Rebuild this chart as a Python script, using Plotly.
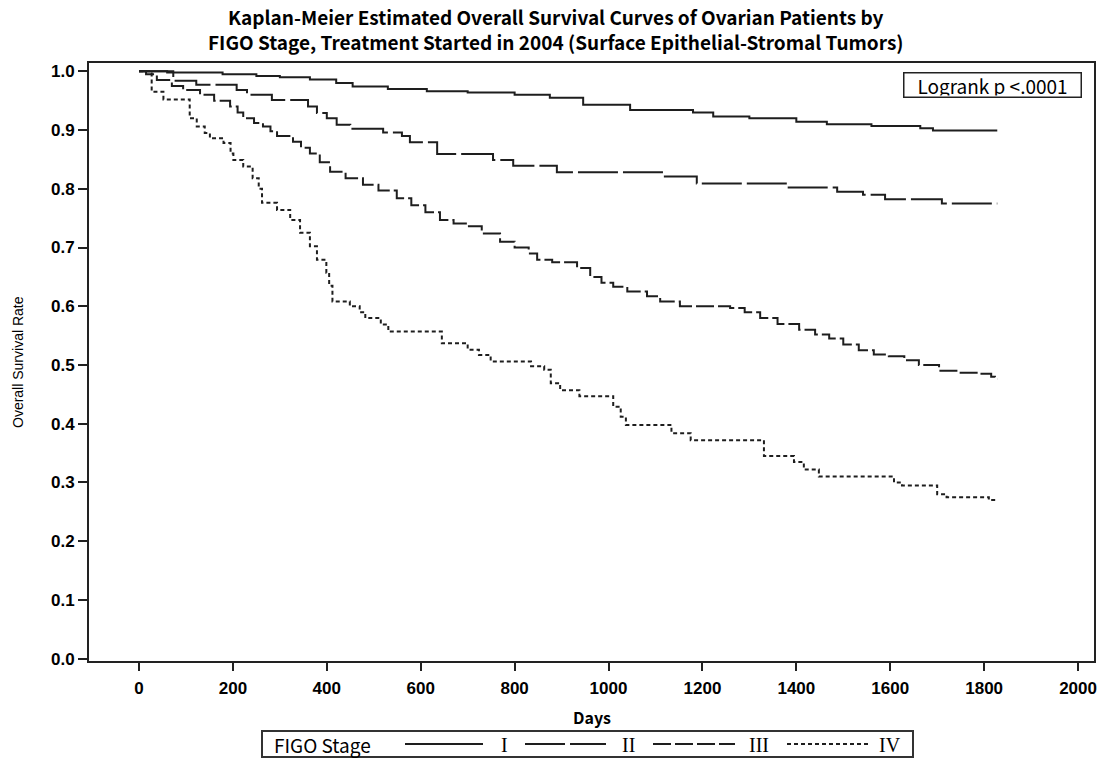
import plotly.graph_objects as go

# ---- Data ----
stage_I_days = [0, 60, 178, 250, 300, 364, 420, 455, 530, 613, 700, 800, 875, 946, 1046,
                1180, 1223, 1300, 1400, 1465, 1560, 1664, 1691, 1828]
stage_I_surv = [1.0, 0.998, 0.995, 0.992, 0.990, 0.986, 0.980, 0.974, 0.970, 0.966, 0.964,
                0.960, 0.955, 0.943, 0.934, 0.930, 0.923, 0.920, 0.914, 0.910, 0.907, 0.903,
                0.899, 0.899]

stage_II_days = [0, 73, 122, 208, 230, 283, 360, 379, 400, 421, 450, 520, 560, 577, 635,
                 754, 797, 890, 1120, 1188, 1380, 1487, 1542, 1589, 1710, 1828]
stage_II_surv = [1.0, 0.984, 0.977, 0.968, 0.960, 0.951, 0.940, 0.929, 0.920, 0.909, 0.902,
                 0.896, 0.890, 0.879, 0.859, 0.849, 0.839, 0.828, 0.821, 0.809, 0.802, 0.795,
                 0.790, 0.782, 0.775, 0.775]

stage_III_days = [0, 15, 38, 70, 94, 130, 160, 194, 210, 222, 245, 264, 280, 294, 328, 345,
                  364, 385, 407, 440, 477, 510, 549, 580, 610, 641, 670, 699, 730, 769, 800,
                  830, 848, 880, 933, 961, 985, 1010, 1040, 1082, 1110, 1152, 1259, 1290,
                  1323, 1360, 1406, 1440, 1470, 1500, 1533, 1565, 1597, 1630, 1661, 1704,
                  1746, 1789, 1815, 1823, 1828]
stage_III_surv = [1.0, 0.995, 0.985, 0.975, 0.968, 0.960, 0.950, 0.940, 0.930, 0.920, 0.912,
                  0.906, 0.898, 0.890, 0.880, 0.870, 0.860, 0.845, 0.829, 0.818, 0.807, 0.797,
                  0.784, 0.772, 0.760, 0.747, 0.741, 0.736, 0.724, 0.710, 0.700, 0.690, 0.679,
                  0.675, 0.665, 0.650, 0.640, 0.633, 0.625, 0.617, 0.608, 0.600, 0.597, 0.590,
                  0.580, 0.570, 0.560, 0.552, 0.545, 0.535, 0.525, 0.518, 0.515, 0.508, 0.500,
                  0.490, 0.487, 0.485, 0.480, 0.476, 0.476]

stage_IV_days = [0, 27, 52, 108, 123, 140, 151, 180, 195, 201, 222, 242, 255, 262, 294, 322,
                 343, 364, 379, 399, 405, 412, 449, 470, 482, 515, 531, 645, 700, 724, 749,
                 835, 863, 877, 897, 938, 1010, 1026, 1037, 1134, 1175, 1331, 1395, 1416,
                 1448, 1608, 1625, 1700, 1720, 1810, 1828]
stage_IV_surv = [1.0, 0.965, 0.952, 0.920, 0.906, 0.895, 0.886, 0.878, 0.860, 0.849, 0.838,
                 0.818, 0.800, 0.776, 0.764, 0.747, 0.725, 0.702, 0.679, 0.657, 0.635, 0.608,
                 0.600, 0.590, 0.580, 0.569, 0.557, 0.537, 0.526, 0.517, 0.506, 0.498, 0.492,
                 0.469, 0.457, 0.447, 0.429, 0.412, 0.398, 0.384, 0.372, 0.345, 0.335, 0.322,
                 0.310, 0.300, 0.295, 0.280, 0.275, 0.270, 0.270]

stage_names = ["I", "II", "III", "IV"]
x_ticks = [0, 200, 400, 600, 800, 1000, 1200, 1400, 1600, 1800, 2000]
y_ticks = [0.0, 0.1, 0.2, 0.3, 0.4, 0.5, 0.6, 0.7, 0.8, 0.9, 1.0]

dashes = ["solid", "40px,5px", "18px,4px", "4px,3px"]
series = [
    (stage_I_days, stage_I_surv),
    (stage_II_days, stage_II_surv),
    (stage_III_days, stage_III_surv),
    (stage_IV_days, stage_IV_surv),
]

LINE_COLOR = "#1e1e1e"
fig = go.Figure()
for name, (d, s), dash in zip(stage_names, series, dashes):
    fig.add_trace(go.Scatter(
        x=d, y=s, mode="lines", name=name, showlegend=False,
        line=dict(color=LINE_COLOR, width=2, dash=dash, shape="hv"),
    ))

gothic = "Noto Sans CJK JP"
arial = "Liberation Sans, Arial, sans-serif"
serif = "Liberation Serif, serif"

# plot-area geometry in pixels (for placing paper-referenced decorations)
L, R, T, B, W, H = 89, 16, 63, 97, 1110, 758
PW, PH = W - L - R, H - T - B


def px(x):
    return (x - L) / PW


def py(y):
    return (H - B - y) / PH


annotations = [
    dict(text="<b>Kaplan-Meier Estimated Overall Survival Curves of Ovarian Patients by<br>"
              "FIGO Stage, Treatment Started in 2004 (Surface Epithelial-Stromal Tumors)</b>",
         xref="paper", yref="paper", x=px(555), y=py(29), xanchor="center", yanchor="middle",
         showarrow=False, font=dict(family=gothic, size=19, color="black")),
    dict(text="Logrank p <.0001", xref="paper", yref="paper", x=px(1082), y=py(72),
         xanchor="right", yanchor="top", showarrow=False, width=174, height=21, align="center",
         font=dict(family=gothic, size=19, color="black"),
         bordercolor="#222", borderwidth=1.5, borderpad=1, bgcolor="white"),
    dict(text="Overall Survival Rate", xref="paper", yref="paper", x=px(18), y=0.5,
         xanchor="center", yanchor="middle", textangle=-90, showarrow=False,
         font=dict(family=arial, size=14, color="black")),
    dict(text="<b>Days</b>", xref="paper", yref="paper", x=px(592), y=py(717),
         xanchor="center", yanchor="middle", showarrow=False,
         font=dict(family=gothic, size=16, color="black")),
    dict(text="FIGO Stage", xref="paper", yref="paper", x=px(272), y=py(744),
         xanchor="left", yanchor="middle", showarrow=False,
         font=dict(family=gothic, size=19, color="black")),
]

shapes = [
    dict(type="rect", xref="paper", yref="paper", x0=px(262), x1=px(913), y0=py(731), y1=py(757),
         line=dict(color="#333", width=2), fillcolor="white", layer="below"),
]

# legend samples: (sample start px, sample end px, label px)
legend_pos = [(405, 483, 504), (525, 606, 628), (653, 735, 759), (787, 870, 890)]
for name, dash, (s0, s1, lx) in zip(stage_names, dashes, legend_pos):
    shapes.append(dict(type="line", xref="paper", yref="paper", x0=px(s0), x1=px(s1),
                       y0=py(744), y1=py(744), line=dict(color=LINE_COLOR, width=2, dash=dash)))
    annotations.append(dict(text=name, xref="paper", yref="paper", x=px(lx), y=py(745),
                            xanchor="center", yanchor="middle", showarrow=False,
                            font=dict(family=serif, size=20, color="black")))

fig.update_layout(
    width=W, height=H,
    paper_bgcolor="white", plot_bgcolor="white",
    margin=dict(l=L, r=R, t=T, b=B, autoexpand=False),
    showlegend=False,
    annotations=annotations,
    shapes=shapes,
)

fig.update_xaxes(
    range=[-106.5, 2034], tickvals=x_ticks, ticktext=[str(v) for v in x_ticks],
    showgrid=False, zeroline=False, automargin=False,
    showline=True, linecolor="#222", linewidth=2, mirror=True,
    ticks="outside", ticklen=8, tickwidth=2, tickcolor="#222", ticklabelstandoff=3,
    tickfont=dict(family=arial, size=17, color="black", weight=700),
)
fig.update_yaxes(
    range=[-0.0039, 1.0141], tickvals=y_ticks, ticktext=[f"{v:.1f}" for v in y_ticks],
    showgrid=False, zeroline=False, automargin=False,
    showline=True, linecolor="#222", linewidth=2, mirror=True,
    ticks="outside", ticklen=9, tickwidth=2, tickcolor="#222",
    tickfont=dict(family=arial, size=17, color="black", weight=700),
)

fig.write_html("out.html",
               config={"displayModeBar": False},
               post_script="document.body.style.margin='0';document.body.style.overflow='hidden';")
